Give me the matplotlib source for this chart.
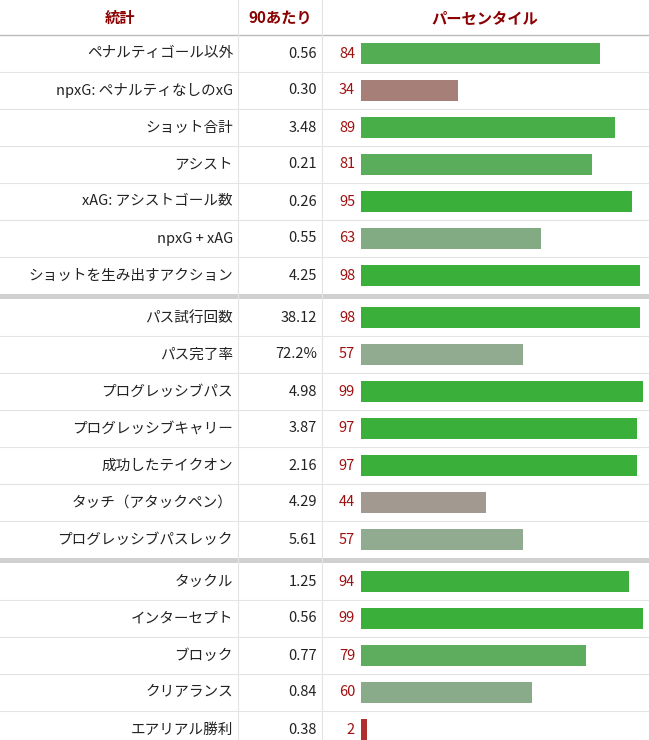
import matplotlib.pyplot as plt
from matplotlib.patches import Rectangle

plt.rcParams["font.family"] = "Noto Sans CJK JP"

stats = ["ペナルティゴール以外", "npxG: ペナルティなしのxG", "ショット合計", "アシスト",
         "xAG: アシストゴール数", "npxG + xAG", "ショットを生み出すアクション",
         "パス試行回数", "パス完了率", "プログレッシブパス", "プログレッシブキャリー",
         "成功したテイクオン", "タッチ（アタックペン）", "プログレッシブパスレック",
         "タックル", "インターセプト", "ブロック", "クリアランス", "エアリアル勝利"]
per90 = ["0.56", "0.30", "3.48", "0.21", "0.26", "0.55", "4.25",
         "38.12", "72.2%", "4.98", "3.87", "2.16", "4.29", "5.61",
         "1.25", "0.56", "0.77", "0.84", "0.38"]
pct = [84, 34, 89, 81, 95, 63, 98, 98, 57, 99, 97, 97, 44, 57, 94, 99, 79, 60, 2]
groups = [7, 7, 5]


def bar_color(p):
    green, grey, red = (58, 175, 58), (160, 170, 160), (176, 48, 48)
    if p >= 50:
        t = min((p - 50) / 45, 1)
        a, b = grey, green
    else:
        t = min((50 - p) / 45, 1)
        a, b = grey, red
    return tuple((a[i] + (b[i] - a[i]) * t) / 255 for i in range(3))


fig = plt.figure(figsize=(6.49, 7.4), dpi=100)
ax = fig.add_axes([0, 0, 1, 1])
ax.set_xlim(0, 649)
ax.set_ylim(740, 0)
ax.axis("off")

hdr = "#8b0000"
ax.text(120, 18, "統計", ha="center", va="center", color=hdr, fontsize=11, fontweight="bold")
ax.text(280, 18, "90あたり", ha="center", va="center", color=hdr, fontsize=11, fontweight="bold")
ax.text(485, 18, "パーセンタイル", ha="center", va="center", color=hdr, fontsize=11, fontweight="bold")
ax.axhline(35, color="#bbbbbb", lw=1)

row_h = 37
y = 35
centers = []
k = 0
for g, n in enumerate(groups):
    for j in range(n):
        centers.append(y + row_h / 2)
        y += row_h
        if j < n - 1:
            ax.axhline(y, color="#e4e4e4", lw=0.8)
    if g < len(groups) - 1:
        ax.add_patch(Rectangle((0, y), 649, 5, color="#d0d0d0", lw=0))
        y += 5

ax.axvline(238, color="#e4e4e4", lw=0.8)
ax.axvline(322, color="#e4e4e4", lw=0.8)

scale = 2.85
ax.barh(centers, [p * scale for p in pct], left=361, height=21,
        color=[bar_color(p) for p in pct])

for c, s, v, p in zip(centers, stats, per90, pct):
    ax.text(233, c, s, ha="right", va="center", fontsize=10.5, color="#222222")
    ax.text(317, c, v, ha="right", va="center", fontsize=10.5, color="#222222")
    ax.text(355, c, str(p), ha="right", va="center", fontsize=10.5, color="#a01010")

fig.savefig("out.png", dpi=100)
